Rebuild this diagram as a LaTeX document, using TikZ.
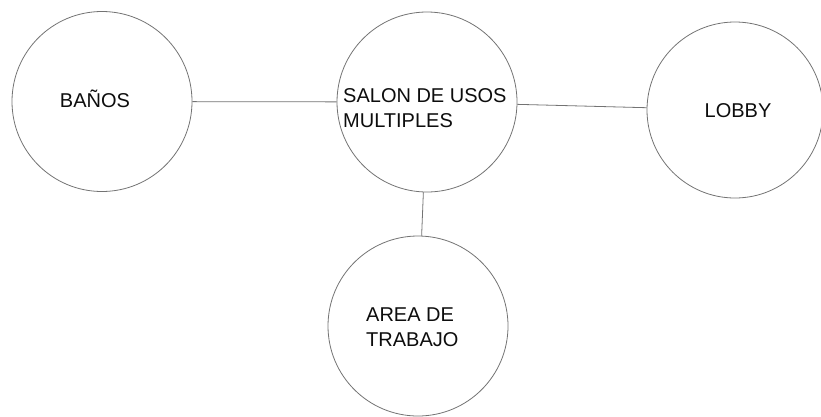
\documentclass[tikz,border=0pt]{standalone}
\usepackage{fontspec}
\setmainfont{Liberation Sans}
\begin{document}
\begin{tikzpicture}[x=1pt,y=-1pt,
  room/.style={circle,draw=black!55,line width=0.8pt,minimum size=180pt,inner sep=0pt},
  link/.style={draw=black!55,line width=0.8pt},
  roomtext/.style={inner sep=0pt,text=black!95,font=\fontsize{20}{25}\selectfont,align=left}]
  \useasboundingbox (0,0) rectangle (821,416);
  % rooms
  \node[room] (banos) at (102,101.5) {};
  \node[room] (salon) at (427,102) {};
  \node[room,minimum size=176pt] (lobby) at (735,110) {};
  \node[room] (area) at (418,326) {};
  % room names
  \node[roomtext,anchor=base] (banosname) at (95,107) {BAÑOS};
  \node[roomtext,anchor=west] (salonname) at (343,108) {SALON DE USOS\\MULTIPLES};
  \node[roomtext,anchor=base] (lobbyname) at (738,117) {LOBBY};
  \node[roomtext,anchor=west] (areaname) at (366,327) {AREA DE\\TRABAJO};
  % connections
  \draw[link] (banos) -- (salon);
  \draw[link] (salon) -- (lobby);
  \draw[link] (salon) -- (area);
\end{tikzpicture}
\end{document}
